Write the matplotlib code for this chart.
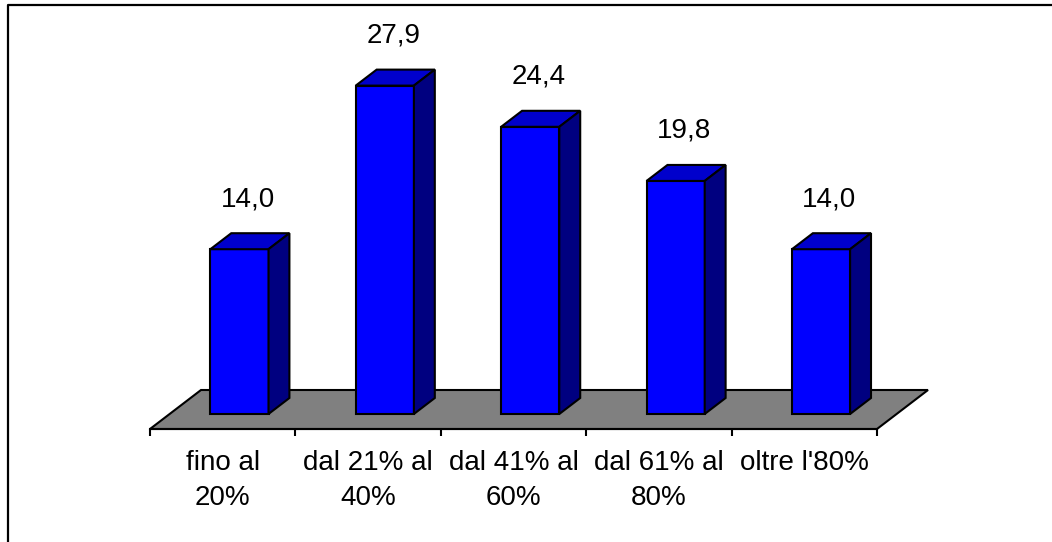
import matplotlib.pyplot as plt
from matplotlib.patches import Polygon
from matplotlib.lines import Line2D

# data
categories = ["fino al\n20%", "dal 21% al\n40%", "dal 41% al\n60%", "dal 61% al\n80%", "oltre l'80%"]
values = [14.0, 27.9, 24.4, 19.8, 14.0]
value_labels = ["14,0", "27,9", "24,4", "19,8", "14,0"]

plt.rcParams['font.family'] = ['Liberation Sans', 'DejaVu Sans']

W, H = 1052, 542
fig = plt.figure(figsize=(W / 100, H / 100), dpi=100)
ax = fig.add_axes([0, 0, 1, 1])
ax.patch.set_visible(False)

# pixel layout of the plot area (front floor edge, category width, value scale)
x0_px, cat_px = 150, 145.4
y0_px, val_px = 429, 11.77
ax.set_xlim(-0.5 - x0_px / cat_px, -0.5 + (W - x0_px) / cat_px)
ax.set_ylim(-(H - y0_px) / val_px, y0_px / val_px)

# oblique depth direction in data units per unit depth
dzx = 51 / cat_px
dzy = 39 / val_px

def proj(x, v, z):
    return (x + z * dzx, v + z * dzy)

n = len(values)
# floor
floor = [proj(-0.5, 0, 0), proj(n - 0.5, 0, 0), proj(n - 0.5, 0, 1), proj(-0.5, 0, 1)]
ax.add_patch(Polygon(floor, closed=True, facecolor="#808080", edgecolor="black", lw=1.5, zorder=1))

bw = 0.4
z1, z2 = 0.385, 0.795
for i, v in enumerate(values):
    xl, xr = i - bw / 2 - 0.02, i + bw / 2 - 0.02
    front = [proj(xl, 0, z1), proj(xr, 0, z1), proj(xr, v, z1), proj(xl, v, z1)]
    top = [proj(xl, v, z1), proj(xr, v, z1), proj(xr, v, z2), proj(xl, v, z2)]
    side = [proj(xr, 0, z1), proj(xr, 0, z2), proj(xr, v, z2), proj(xr, v, z1)]
    ax.add_patch(Polygon(front, closed=True, facecolor="#0000FF", edgecolor="black", lw=1.5, zorder=2))
    ax.add_patch(Polygon(top, closed=True, facecolor="#0000CC", edgecolor="black", lw=1.5, zorder=2))
    ax.add_patch(Polygon(side, closed=True, facecolor="#000080", edgecolor="black", lw=1.5, zorder=2))
    cx, cy = proj(i - 0.02, v, z1)
    ax.annotate(value_labels[i], (cx, cy), xytext=(6, 31), textcoords="offset points",
                ha="center", va="baseline", fontsize=20)

# axis along the front floor edge
for s in ["left", "right", "top"]:
    ax.spines[s].set_visible(False)
ax.spines["bottom"].set_position(("data", 0))
ax.spines["bottom"].set_bounds(-0.5, n - 0.5)
ax.spines["bottom"].set_linewidth(1.5)
ax.set_yticks([])
ax.set_xticks([i - 0.5 for i in range(n + 1)])
ax.set_xticklabels([])
ax.tick_params(axis="x", which="major", direction="out", length=5, width=1.5)
ax.set_xticks(range(n), minor=True)
ax.set_xticklabels(categories, minor=True, fontsize=20, linespacing=1.45)
ax.tick_params(axis="x", which="minor", length=0, pad=15)

# chart border (left and top edges visible)
fig.add_artist(Line2D([8 / W, 8 / W, 1], [0, 1 - 5 / H, 1 - 5 / H], color="black", lw=1.6,
                      transform=fig.transFigure))

fig.savefig("out.png", dpi=100)
